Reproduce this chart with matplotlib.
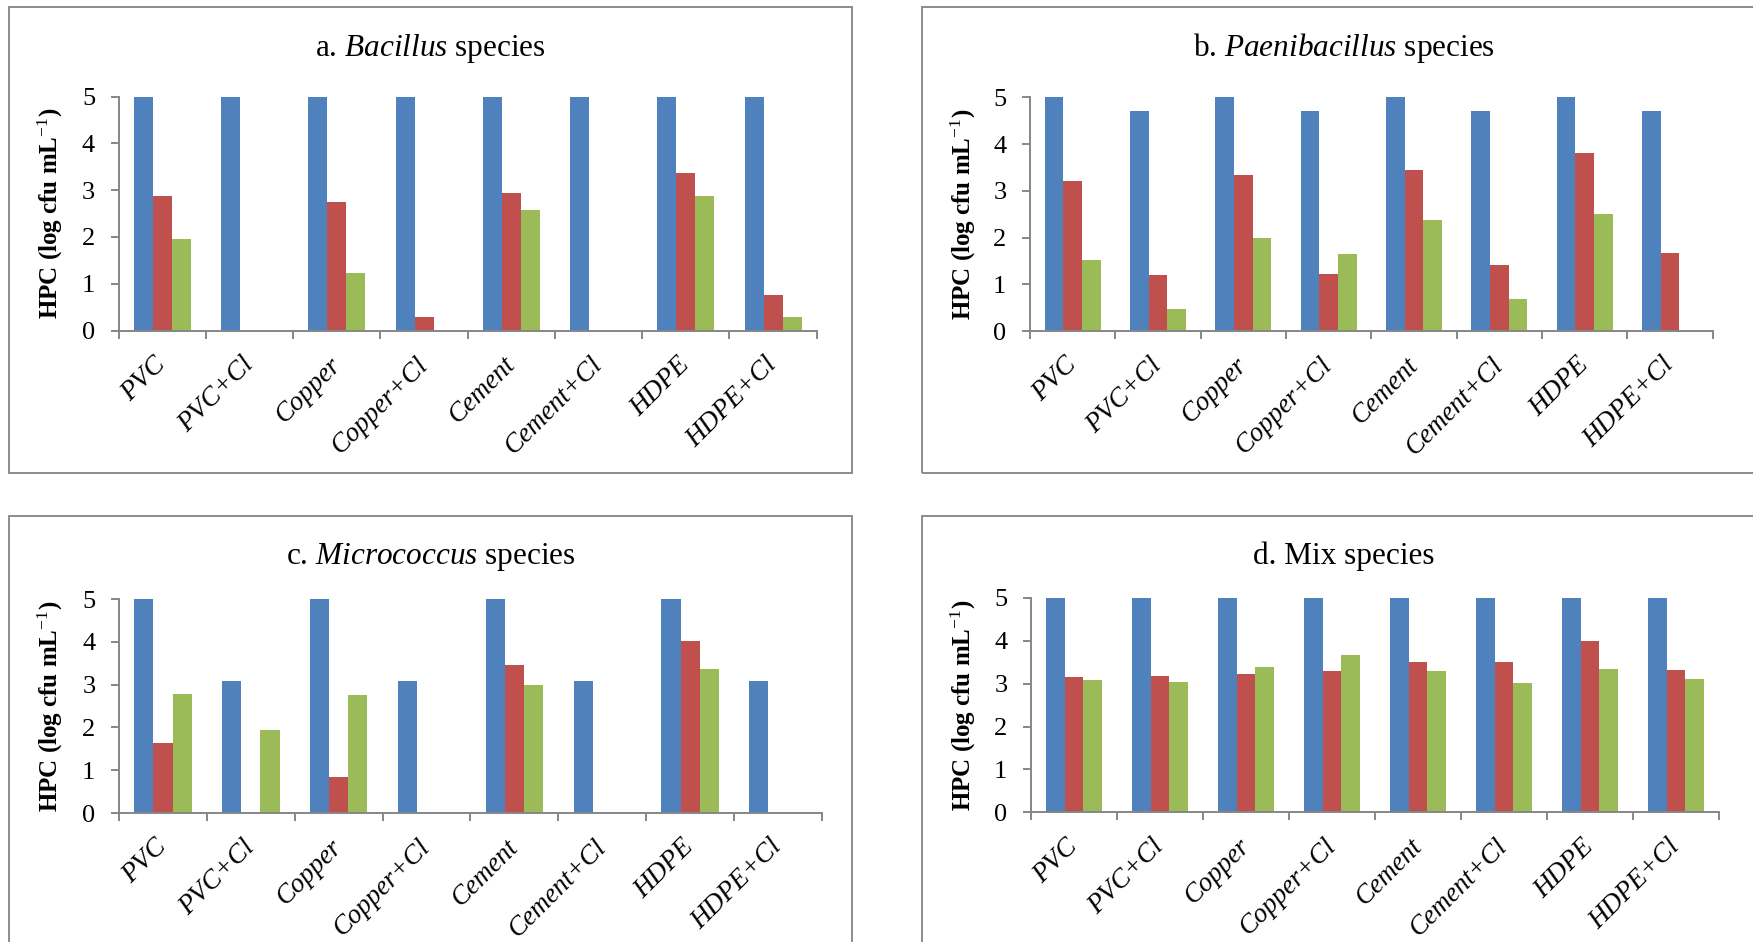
import numpy as np
import matplotlib
matplotlib.use("Agg")
import matplotlib.pyplot as plt
from matplotlib.patches import Rectangle

plt.rcParams['font.family'] = ['Liberation Serif', 'DejaVu Serif']
plt.rcParams['mathtext.fontset'] = 'custom'
plt.rcParams['mathtext.rm'] = 'Liberation Serif'
plt.rcParams['mathtext.it'] = 'Liberation Serif:italic'
plt.rcParams['mathtext.bf'] = 'Liberation Serif:bold'

materials = ['PVC', 'PVC+Cl', 'Copper', 'Copper+Cl',
             'Cement', 'Cement+Cl', 'HDPE', 'HDPE+Cl']

# three series per panel (blue, red, green)
bacillus_1 = [5, 5, 5, 5, 5, 5, 5, 5]
bacillus_2 = [2.87, 0, 2.75, 0.29, 2.93, 0, 3.37, 0.76]
bacillus_3 = [1.95, 0, 1.22, 0, 2.58, 0, 2.88, 0.29]

paeni_1 = [5, 4.71, 5, 4.71, 5, 4.71, 5, 4.71]
paeni_2 = [3.21, 1.19, 3.33, 1.22, 3.45, 1.42, 3.80, 1.66]
paeni_3 = [1.51, 0.46, 1.98, 1.65, 2.37, 0.68, 2.50, 0]

micro_1 = [5, 3.09, 5, 3.09, 5, 3.09, 5, 3.09]
micro_2 = [1.63, 0, 0.84, 0, 3.46, 0, 4.02, 0]
micro_3 = [2.78, 1.94, 2.76, 0, 2.99, 0, 3.36, 0]

mix_1 = [5, 5, 5, 5, 5, 5, 5, 5]
mix_2 = [3.15, 3.19, 3.22, 3.29, 3.51, 3.50, 4.00, 3.33]
mix_3 = [3.08, 3.04, 3.40, 3.68, 3.30, 3.02, 3.34, 3.10]

titles = [r'a. $\mathit{Bacillus}$ species',
          r'b. $\mathit{Paenibacillus}$ species',
          r'c. $\mathit{Micrococcus}$ species',
          'd. Mix species']
panels = [(bacillus_1, bacillus_2, bacillus_3),
          (paeni_1, paeni_2, paeni_3),
          (micro_1, micro_2, micro_3),
          (mix_1, mix_2, mix_3)]
colors = ['#4F81BD', '#C0504D', '#9BBB59']

W, H = 1753, 942
fig = plt.figure(figsize=(W / 100, H / 100), dpi=100)

# layout in pixels: chart frame (left, top, right, bottom) and plot area
frames = [(9, 7, 852, 473), (922, 7, 1765, 473),
          (9, 516, 852, 982), (922, 516, 1765, 982)]
plots = [(118.7, 96.7, 816.7, 330.5), (1030, 97.3, 1712.7, 331),
         (119, 599, 822, 813), (1031, 598, 1719, 812.3)]
title_base = [55.7, 55.7, 564, 564]

grey = '#868686'
x = np.arange(len(materials))
bw = 0.218

for i in range(4):
    fl, ft, fr, fb = frames[i]
    fig.add_artist(Rectangle((fl / W, 1 - fb / H), (fr - fl) / W, (fb - ft) / H,
                             transform=fig.transFigure, fill=False,
                             edgecolor='#8c8c8c', lw=1.4))

    l, t, r, b = plots[i]
    ax = fig.add_axes([l / W, 1 - b / H, (r - l) / W, (b - t) / H])
    for k, vals in enumerate(panels[i]):
        ax.bar(x + (k - 1) * bw, vals, width=bw, color=colors[k], linewidth=0)

    ax.set_xlim(-0.5, len(materials) - 0.5)
    ax.set_ylim(0, 5)
    ax.set_yticks(range(6))
    for s in ['top', 'right']:
        ax.spines[s].set_visible(False)
    for s in ['left', 'bottom']:
        ax.spines[s].set_color(grey)
        ax.spines[s].set_linewidth(1.4)

    ax.tick_params(axis='y', direction='out', length=6, width=1.4, color=grey,
                   labelsize=19, pad=11)
    ax.set_xticks(x)
    ax.set_xticklabels(materials, rotation=45, ha='right', va='center',
                       rotation_mode='anchor', fontstyle='italic', fontsize=19.5)
    ax.tick_params(axis='x', which='major', length=0, pad=22)
    ax.set_xticks(np.arange(-0.5, len(materials)), minor=True)
    ax.tick_params(axis='x', which='minor', direction='out', length=6,
                   width=1.4, color=grey)

    fig.text((fl + fr) / 2 / W, 1 - title_base[i] / H, titles[i],
             ha='center', va='baseline', fontsize=22.5)
    fig.text((fl + 41) / W, 1 - (t + b) / 2 / H, r'HPC (log cfu mL$^{-1}$)',
             rotation=90, ha='center', va='center', fontsize=18,
             fontweight='bold')

fig.savefig('out.png', dpi=100)
